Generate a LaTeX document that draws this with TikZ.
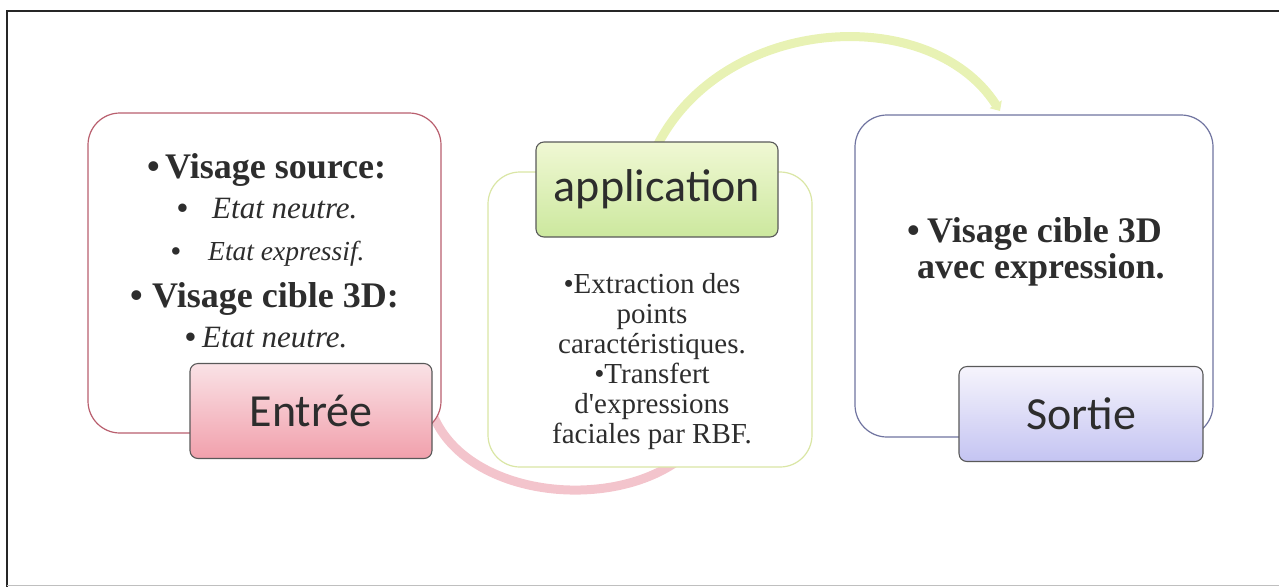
\documentclass[tikz,border=0pt]{standalone}
\usepackage{fontspec}
\setmainfont{Liberation Serif}
\newfontfamily\labelfont{Carlito}
\usetikzlibrary{arrows.meta}

\definecolor{inkgray}{RGB}{45,45,45}
\definecolor{entreeline}{RGB}{185,95,110}
\definecolor{appline}{RGB}{218,230,165}
\definecolor{sortieline}{RGB}{112,116,160}
\definecolor{pinkarc}{RGB}{243,196,204}
\definecolor{greenarc}{RGB}{232,242,180}
\definecolor{pinktop}{RGB}{250,226,230}
\definecolor{pinkbot}{RGB}{241,160,172}
\definecolor{greentop}{RGB}{240,248,212}
\definecolor{greenbot}{RGB}{204,232,158}
\definecolor{lavtop}{RGB}{246,244,252}
\definecolor{lavbot}{RGB}{196,196,242}

\newcommand{\blt}{{\upshape\bfseries •}}

\tikzset{
  panel/.style={draw, line width=1.2pt, fill=white, rounded corners=32pt, inner sep=0pt},
  tag/.style={draw=black!65, line width=1.1pt, rounded corners=8pt, inner sep=0pt,
    minimum width=242pt, minimum height=95pt, text=inkgray,
    font=\labelfont\fontsize{46}{50}\selectfont},
  bighead/.style={anchor=base west, inner sep=0pt, text=inkgray,
    font=\fontsize{36}{40}\selectfont\bfseries},
  subitem/.style={anchor=base west, inner sep=0pt, text=inkgray,
    font=\fontsize{31}{34}\selectfont\itshape},
  flowarc/.style={line width=9pt, line cap=round},
}

\begin{document}
\begin{tikzpicture}[x=1pt, y=-1pt]
\useasboundingbox (0,0) rectangle (1279,587);

% outer frame
\draw[line width=2.5pt, black!85] (1279,11) -- (7,11) -- (7,587);
\draw[line width=0.8pt, black!25] (7,585.5) -- (1279,585.5);

% connecting arcs (drawn first, the boxes cover their ends)
\coordinate (pinkstart) at (433,415);
\coordinate (pinkend) at (700,440);
\coordinate (greenstart) at (655,150);
\coordinate (greenend) at (1000,111);
\draw[flowarc, pinkarc] (pinkstart) .. controls (470,505) and (640,515) .. (pinkend);
\draw[flowarc, greenarc, -{Triangle[width=14pt,length=8pt]}]
  (greenstart) .. controls (720,14) and (930,2) .. (greenend);

% main panels
\node[panel, draw=entreeline, minimum width=353pt, minimum height=320pt] (inbox) at (264.5,273) {};
\node[panel, draw=appline, minimum width=324pt, minimum height=295pt] (appbox) at (650,319.5) {};
\node[panel, draw=sortieline, minimum width=358pt, minimum height=322pt] (outbox) at (1034,276) {};

% title tags
\node[tag, top color=pinktop, bottom color=pinkbot] (intag) at (311,411) {Entrée};
\node[tag, top color=greentop, bottom color=greenbot] (apptag) at (657,189.5) {application};
\node[tag, top color=lavtop, bottom color=lavbot, minimum width=244pt] (outtag) at (1081,414) {Sortie};

% input panel text
\node[bighead] (src) at (147,178) {\makebox[18pt][l]{•}Visage source:};
\node[subitem] (src1) at (177,218) {\makebox[35pt][l]{\blt}Etat neutre.};
\node[subitem, font=\fontsize{27.5}{30}\selectfont\itshape] (src2) at (171,260) {\makebox[37pt][l]{\blt}Etat expressif.};
\node[bighead] (tgt) at (130,307) {\makebox[22pt][l]{•}Visage cible 3D:};
\node[subitem] (tgt1) at (185,347) {\makebox[17pt][l]{\blt}Etat neutre.};

% application panel text
\node[anchor=north, inner sep=0pt, align=center, text=inkgray,
  font=\fontsize{29}{30}\selectfont] (apptext) at (652,273)
  {•Extraction des\\points\\caractéristiques.\\•Transfert\\d\textquotesingle expressions\\faciales par RBF.};

% output panel text
\node[bighead] (res1) at (907,242) {\makebox[20pt][l]{•}Visage cible 3D};
\node[bighead] (res2) at (917,278) {avec expression.};
\end{tikzpicture}
\end{document}
